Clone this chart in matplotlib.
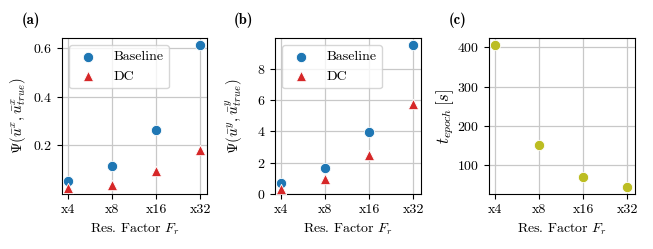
import matplotlib
matplotlib.use("Agg")
import matplotlib.pyplot as plt
import numpy as np

plt.rcParams['font.family'] = 'serif'
plt.rcParams['font.serif'] = ['cmr10', 'DejaVu Serif']
plt.rcParams['mathtext.fontset'] = 'cm'
plt.rcParams['axes.formatter.use_mathtext'] = True
plt.rcParams['axes.unicode_minus'] = False
plt.rcParams['font.size'] = 10

factors = ['x4', 'x8', 'x16', 'x32']
baseline_x = [0.055, 0.114, 0.262, 0.611]
dc_x = [0.024, 0.038, 0.093, 0.182]
baseline_y = [0.70, 1.69, 3.97, 9.50]
dc_y = [0.35, 0.98, 2.48, 5.75]
t_epoch = [406.7, 151.0, 70.5, 45.6]

W, H = 653, 249
fig = plt.figure(figsize=(W / 100, H / 100), dpi=100)

def make_ax(left_px):
    return fig.add_axes([left_px / W, (H - 194) / H, 145.5 / W, 156 / H])

axes = [make_ax(62), make_ax(275), make_ax(489)]
pos = np.arange(len(factors))

def style(ax, label, ylabel, ysize, ylx):
    ax.set_axisbelow(True)
    ax.grid(True, color='#c8c8c8', linewidth=0.9)
    ax.set_xticks(pos)
    ax.set_xticklabels(factors)
    ax.set_xlim(-0.14, 3.16)
    ax.set_xlabel('Res. Factor $F_r$')
    ax.set_ylabel(ylabel, fontsize=ysize)
    ax.yaxis.set_label_coords(ylx, 0.5)
    for s in ax.spines.values():
        s.set_color('black')
        s.set_linewidth(0.8)
    ax.text(-0.215, 1.115, label, transform=ax.transAxes, fontfamily='cmb10',
            fontsize=10.5, ha='center', va='center')

mk = dict(s=55, edgecolor='white', linewidth=0.6, zorder=3)

ax = axes[0]
ax.scatter(pos, baseline_x, color='tab:blue', marker='o', label='Baseline', **mk)
ax.scatter(pos, dc_x, color='tab:red', marker='^', label='DC', **mk)
ax.set_ylim(0, 0.641)
ax.set_yticks([0.2, 0.4, 0.6])
ax.legend(loc='upper left', framealpha=0.8, edgecolor='#cccccc', fancybox=True)
style(ax, '(a)', r'$\Psi(\bar{u}^x, \bar{u}^x_{true})$', 10.8, -0.235)

ax = axes[1]
ax.scatter(pos, baseline_y, color='tab:blue', marker='o', label='Baseline', **mk)
ax.scatter(pos, dc_y, color='tab:red', marker='^', label='DC', **mk)
ax.set_ylim(0, 9.97)
ax.set_yticks([0, 2, 4, 6, 8])
ax.legend(loc='upper left', framealpha=0.8, edgecolor='#cccccc', fancybox=True)
style(ax, '(b)', r'$\Psi(\bar{u}^y, \bar{u}^y_{true})$', 10.8, -0.205)

ax = axes[2]
ax.scatter(pos, t_epoch, color='tab:olive', marker='o', **mk)
ax.set_ylim(26.6, 424)
ax.set_yticks([100, 200, 300, 400])
style(ax, '(c)', r'$t_{epoch}\,[s]$', 12, -0.225)

fig.savefig('out.png', dpi=100)
